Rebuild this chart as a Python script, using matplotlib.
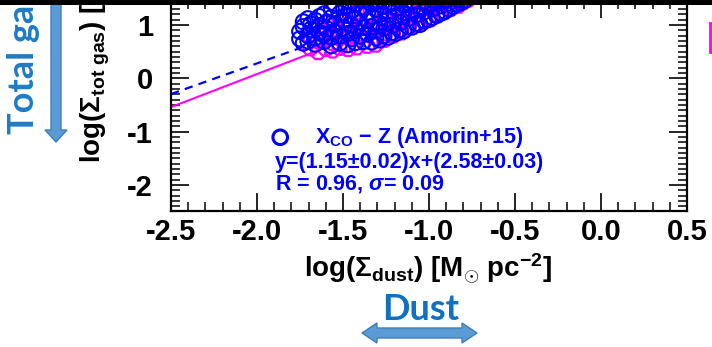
import matplotlib
matplotlib.use('Agg')
import matplotlib.pyplot as plt
from matplotlib.patches import Rectangle, Polygon
from matplotlib.ticker import MultipleLocator, FixedLocator, FixedFormatter
import numpy as np

# ---------------- data ----------------
blue_x = [-1.752, -1.752,
          -1.731, -1.731, -1.731,
          -1.704, -1.704, -1.704,
          -1.688, -1.688,
          -1.662, -1.662, -1.662,
          -1.637, -1.637, -1.637,
          -1.611, -1.611, -1.611,
          -1.594, -1.594,
          -1.568, -1.568, -1.568, -1.568,
          -1.547, -1.547, -1.547,
          -1.519, -1.519, -1.519,
          -1.497, -1.497, -1.497,
          -1.473, -1.473, -1.473, -1.473,
          -1.451, -1.451, -1.451,
          -1.428, -1.428, -1.428, -1.428,
          -1.402, -1.402, -1.402,
          -1.381, -1.381, -1.381, -1.381,
          -1.356, -1.356, -1.356,
          -1.334, -1.334, -1.334, -1.334,
          -1.309, -1.309, -1.309,
          -1.287, -1.287, -1.287, -1.287,
          -1.262, -1.262, -1.262,
          -1.238, -1.238, -1.238,
          -1.214, -1.214, -1.214,
          -1.193, -1.193, -1.193,
          -1.168, -1.168, -1.168,
          -1.146, -1.146, -1.146,
          -1.121, -1.121,
          -1.098, -1.098, -1.098,
          -1.074, -1.074,
          -1.052, -1.052,
          -1.027, -1.027, -1.027,
          -1.004, -1.004,
          -0.981, -0.981,
          -0.957, -0.957,
          -0.932, -0.932,
          -0.908, -0.908,
          -0.884, -0.884,
          -0.861,
          -0.838, -0.838,
          -0.815,
          -0.792]
blue_y = [0.74, 0.88,
          0.66, 0.97, 1.06,
          0.80, 0.70, 1.12,
          0.92, 1.02,
          0.64, 0.76, 1.09,
          0.86, 0.99, 1.16,
          0.69, 0.81, 1.21,
          0.93, 1.06,
          0.61, 0.77, 1.14, 1.29,
          0.87, 1.01, 1.37,
          0.66, 0.79, 1.22,
          0.94, 1.09, 1.33,
          0.63, 0.84, 1.18, 1.43,
          0.74, 1.00, 1.27,
          0.67, 0.90, 1.12, 1.39,
          0.79, 1.04, 1.21,
          0.69, 0.95, 1.31, 1.46,
          0.83, 1.08, 1.24,
          0.68, 0.97, 1.16, 1.40,
          0.76, 0.89, 1.29,
          0.72, 1.03, 1.20, 1.44,
          0.80, 0.94, 1.35,
          0.77, 1.11, 1.26,
          0.86, 0.99, 1.41,
          0.84, 1.17, 1.31,
          0.91, 1.05, 1.46,
          0.89, 1.23, 1.37,
          0.97, 1.12,
          0.96, 1.28, 1.43,
          1.03, 1.19,
          1.01, 1.34,
          1.08, 1.25, 1.45,
          1.10, 1.39,
          1.14, 1.30,
          1.18, 1.44,
          1.22, 1.36,
          1.26, 1.47,
          1.30, 1.41,
          1.35,
          1.39, 1.48,
          1.42,
          1.46]

mag_x = [-1.690, -1.690,
         -1.645, -1.645, -1.645,
         -1.600, -1.600, -1.600,
         -1.560, -1.560, -1.560,
         -1.520, -1.520, -1.520,
         -1.470, -1.470, -1.470,
         -1.420, -1.420, -1.420,
         -1.360, -1.360, -1.360,
         -1.310, -1.310, -1.310,
         -1.260, -1.260, -1.260,
         -1.210, -1.210, -1.210,
         -1.160, -1.160,
         -1.120, -1.120,
         -1.070, -1.070,
         -1.030, -1.030,
         -0.990, -0.990,
         -0.950, -0.950,
         -0.910,
         -0.870, -0.870,
         -0.830,
         -0.800,
         -0.770]
mag_y = [0.56, 0.78,
         0.49, 0.70, 0.95,
         0.55, 0.84, 1.05,
         0.52, 0.66, 0.98,
         0.57, 0.88, 1.15,
         0.55, 0.76, 1.02,
         0.58, 0.92, 1.25,
         0.61, 0.82, 1.10,
         0.63, 0.98, 1.30,
         0.72, 0.84, 1.15,
         0.80, 1.24, 1.40,
         0.86, 1.08,
         0.96, 1.32,
         1.00, 1.20,
         1.06, 1.42,
         1.11, 1.30,
         1.18, 1.40,
         1.24,
         1.31, 1.45,
         1.36,
         1.43,
         1.48]

# fit lines (slope, intercept)
blue_fit = (1.15, 2.58)
mag_fit = (1.24, 2.56)

x_ticks = [-2.5, -2.0, -1.5, -1.0, -0.5, 0.0, 0.5]
x_ticklabels = ['-2.5', '-2.0', '-1.5', '-1.0', '-0.5', '0.0', '0.5']
y_ticks = [-2, -1, 0, 1]
y_ticklabels = ['-2', '-1', '0', '1']

legend_lines = [r'$\mathrm{X}_{\mathrm{CO}}$ $-$ Z (Amorin+15)',
                'y=(1.15\u00b10.02)x+(2.58\u00b10.03)',
                r'R = 0.96, $\sigma$= 0.09']

# ---------------- style ----------------
W, H = 712, 347
plt.rcParams['font.family'] = ['Liberation Sans', 'DejaVu Sans']
plt.rcParams['font.weight'] = 'bold'
plt.rcParams['axes.unicode_minus'] = False
plt.rcParams['mathtext.fontset'] = 'custom'
plt.rcParams['mathtext.rm'] = 'Liberation Sans:bold'
plt.rcParams['mathtext.bf'] = 'Liberation Sans:bold'
plt.rcParams['mathtext.sf'] = 'Liberation Sans:bold'
plt.rcParams['mathtext.it'] = 'Liberation Sans:italic'
plt.rcParams['lines.scale_dashes'] = False

fig = plt.figure(figsize=(W / 100, H / 100), dpi=100)


def fx(px):
    return px / W


def fy(py):
    return 1 - py / H


ax = fig.add_axes([fx(171), fy(211), fx(687) - fx(171), fy(0) - fy(211)])
ax.set_xlim(-2.5, 0.5)
ax.set_ylim(-2.49, 1.47)

BLUE = '#0000ff'
MAG = '#ff00ff'

xx = np.array([-2.5, 0.5])
ax.plot(xx, mag_fit[0] * xx + mag_fit[1], color=MAG, lw=1.5, zorder=2)
ax.plot(xx, blue_fit[0] * xx + blue_fit[1], color=BLUE, lw=1.6,
        dashes=(6, 4.5), zorder=2)

ax.scatter(mag_x, mag_y, s=115, marker='8', facecolors='none',
           edgecolors=MAG, linewidths=1.6, zorder=3)
ax.scatter(blue_x, blue_y, s=117, marker='o', facecolors='none',
           edgecolors=BLUE, linewidths=1.5, zorder=4)

# legend-like text block
ax.scatter([-1.865], [-1.107], s=110, marker='o', facecolors='none',
           edgecolors=BLUE, linewidths=2.2, zorder=5, clip_on=False)
ax.text(-1.66, -1.107, legend_lines[0], color=BLUE, fontsize=15.5,
        fontweight='bold', va='center', ha='left')
ax.text(-1.895, -1.576, legend_lines[1], color=BLUE, fontsize=15.5,
        fontweight='bold', va='center', ha='left')
ax.text(-1.895, -1.99, legend_lines[2], color=BLUE, fontsize=15.5,
        fontweight='bold', va='center', ha='left')

ax.xaxis.set_major_locator(FixedLocator(x_ticks))
ax.xaxis.set_major_formatter(FixedFormatter(x_ticklabels))
ax.xaxis.set_minor_locator(MultipleLocator(0.1))
ax.yaxis.set_major_locator(FixedLocator(y_ticks))
ax.yaxis.set_major_formatter(FixedFormatter(y_ticklabels))
ax.yaxis.set_minor_locator(MultipleLocator(0.1))

ax.tick_params(which='major', direction='in', length=13, width=1.2,
               top=True, right=True, labelsize=21)
ax.tick_params(which='minor', direction='in', length=6.5, width=1.1,
               top=True, right=True)
ax.tick_params(axis='x', which='major', pad=5)
ax.tick_params(axis='y', which='major', pad=13)
for lab in ax.get_xticklabels() + ax.get_yticklabels():
    lab.set_fontweight('bold')
for sp in ax.spines.values():
    sp.set_linewidth(1.6)

# axis labels
fig.text(fx(428), fy(269),
         r'log($\Sigma_{\mathrm{dust}}$) [M$_{\odot}$ pc$^{-2}$]',
         fontsize=20, fontweight='bold', ha='center', va='center')
fig.text(fx(94), fy(163),
         r'log($\Sigma_{\mathrm{tot\ gas}}$) [M$_{\odot}$ pc$^{-2}$]',
         fontsize=20, fontweight='bold', rotation=90,
         rotation_mode='anchor', ha='left', va='center')

# slide decorations
fig.text(fx(23), fy(134), 'Total gas', family='Lato', fontweight='bold',
         fontsize=26, color='#1f7bc4', rotation=90, rotation_mode='anchor',
         ha='left', va='center')
fig.text(fx(421), fy(310), 'Dust', family='Lato', fontweight='bold',
         fontsize=26, color='#1071c0', ha='center', va='center')


def px_poly(pts, **kw):
    return Polygon([(fx(a), fy(b)) for a, b in pts], closed=True,
                   transform=fig.transFigure, **kw)


fig.patches.append(px_poly([(51, 0), (61, 0), (61, 130), (67, 130),
                            (56, 142), (45, 130), (51, 130)],
                           facecolor='#5b9bd5', edgecolor='#3f7db8', lw=1.0))
fig.patches.append(px_poly([(362, 333), (377, 323), (377, 328), (462, 328),
                            (462, 323), (477, 333), (462, 343), (462, 338),
                            (377, 338), (377, 343)],
                           facecolor='#5b9bd5', edgecolor='#3f7db8', lw=1.0))
fig.patches.append(Rectangle((fx(710), fy(52)), fx(30), fy(23) - fy(52),
                             transform=fig.transFigure, facecolor='white',
                             edgecolor=MAG, lw=2.0))
fig.patches.append(Rectangle((0, fy(5)), 1, 1 - fy(5),
                             transform=fig.transFigure, facecolor='black',
                             edgecolor='none', zorder=20))

fig.savefig('out.png', dpi=100)
